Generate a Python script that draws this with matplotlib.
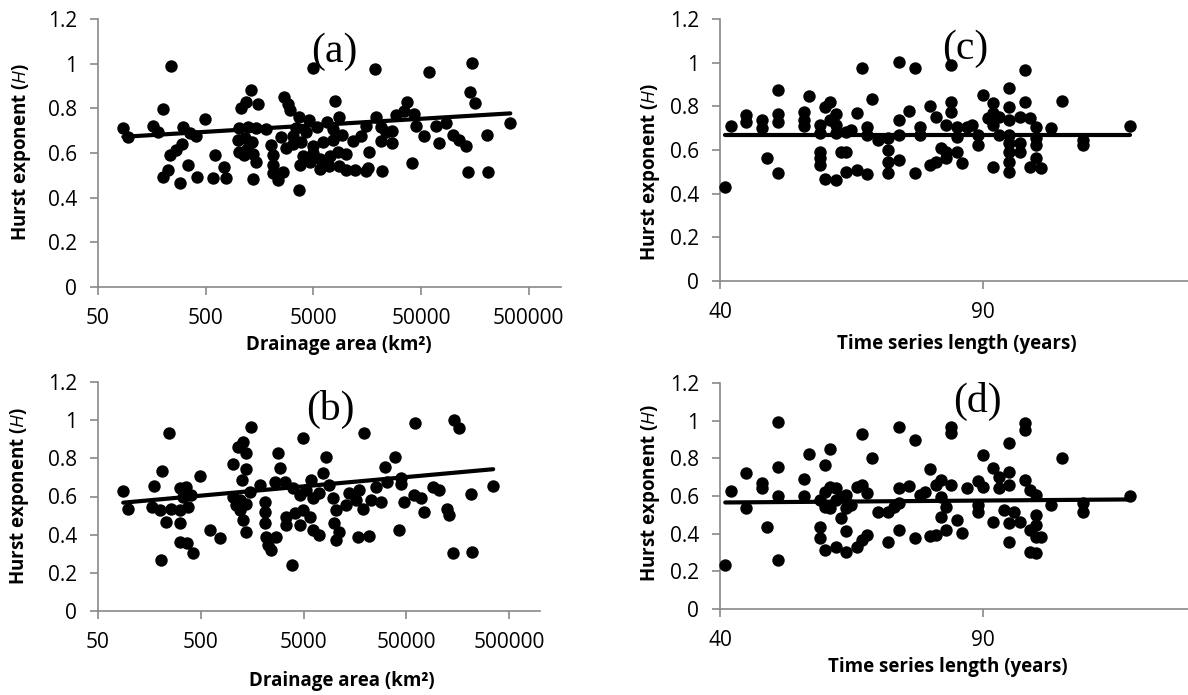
import numpy as np
import matplotlib
matplotlib.use("Agg")
import matplotlib.pyplot as plt
from matplotlib.ticker import FixedLocator, FuncFormatter, NullLocator

# (a) drainage area vs H
area_a = [237, 4930, 18750, 59300, 149000, 144000, 158000, 1325, 1190, 1530,
          1070, 2690, 2890, 3040, 201, 490, 8000, 37300, 34800, 29100,
          43000, 86, 95, 163, 181, 308, 356, 404, 232, 267,
          304, 201, 224, 287, 343, 416, 605, 734, 585, 776,
          1030, 1230, 1470, 1820, 995, 1150, 1350, 1030, 1210, 1390,
          1470, 1370, 1125, 2030, 2100, 2130, 2100, 2340, 2600, 2510,
          2790, 3220, 3710, 3710, 4590, 3460, 4280, 5370, 6640, 8590,
          7550, 3270, 3840, 4930, 6190, 7650, 9210, 4040, 5000, 5760,
          7130, 8400, 3770, 4650, 5760, 7030, 8590, 10030, 11570, 13800,
          15380, 19010, 21180, 23870, 27150, 21180, 27150, 16370, 16030, 21630,
          10030, 12250, 15590, 41600, 45300, 53300, 68400, 85900, 73400, 98900,
          114000, 130000, 206000, 338000, 137000, 210000]
h_a = [0.990, 0.979, 0.976, 0.964, 1.002, 0.875, 0.823, 0.882, 0.830, 0.818,
       0.800, 0.852, 0.818, 0.793, 0.797, 0.752, 0.833, 0.830, 0.788, 0.770,
       0.773, 0.711, 0.673, 0.723, 0.693, 0.718, 0.688, 0.678, 0.591, 0.614,
       0.639, 0.494, 0.524, 0.464, 0.546, 0.494, 0.591, 0.539, 0.487, 0.487,
       0.711, 0.718, 0.714, 0.708, 0.658, 0.669, 0.648, 0.606, 0.618, 0.594,
       0.558, 0.484, 0.591, 0.636, 0.591, 0.546, 0.509, 0.479, 0.517, 0.673,
       0.621, 0.639, 0.434, 0.763, 0.748, 0.711, 0.693, 0.718, 0.741, 0.763,
       0.708, 0.678, 0.648, 0.633, 0.648, 0.658, 0.681, 0.588, 0.599, 0.573,
       0.588, 0.606, 0.546, 0.558, 0.528, 0.543, 0.543, 0.594, 0.654, 0.678,
       0.723, 0.763, 0.718, 0.696, 0.699, 0.654, 0.643, 0.606, 0.531, 0.520,
       0.524, 0.524, 0.520, 0.554, 0.723, 0.678, 0.723, 0.733, 0.643, 0.681,
       0.658, 0.633, 0.681, 0.733, 0.514, 0.514]

# (b) drainage area vs H
area_b = [88, 98, 246, 208, 175, 166, 200, 232, 259, 313,
          363, 337, 405, 377, 313, 313, 207, 313, 368, 422,
          497, 611, 776, 1550, 1290, 1150, 1390, 1020, 1380, 1270,
          1030, 1110, 1200, 1290, 1390, 1500, 1870, 1200, 1390, 2090,
          2090, 2090, 2170, 2250, 2430, 2820, 2920, 2610, 3270, 2720,
          3880, 3400, 4090, 4930, 5720, 3400, 4570, 6160, 7140, 3930,
          4570, 5300, 6160, 7140, 5930, 4890, 8300, 7700, 8930, 9640,
          10380, 10000, 10380, 11190, 14000, 12970, 16200, 17500, 16850, 21860,
          19550, 18850, 22700, 28380, 25400, 31250, 39100, 42760, 32700, 44400,
          44100, 47700, 59800, 68800, 74800, 90100, 104500, 61100, 125800, 130600,
          146200, 163600, 141000, 217000, 212000, 350000]
h_b = [0.630, 0.537, 0.934, 0.733, 0.654, 0.546, 0.528, 0.467, 0.537, 0.642,
       0.651, 0.598, 0.607, 0.546, 0.528, 0.459, 0.266, 0.362, 0.354, 0.305,
       0.707, 0.424, 0.380, 0.962, 0.887, 0.861, 0.826, 0.770, 0.742, 0.686,
       0.598, 0.555, 0.528, 0.476, 0.415, 0.625, 0.660, 0.580, 0.563, 0.572,
       0.520, 0.459, 0.389, 0.345, 0.319, 0.826, 0.747, 0.677, 0.677, 0.389,
       0.240, 0.494, 0.511, 0.528, 0.494, 0.450, 0.450, 0.424, 0.398, 0.642,
       0.607, 0.633, 0.590, 0.616, 0.686, 0.904, 0.808, 0.721, 0.660, 0.590,
       0.528, 0.459, 0.371, 0.415, 0.616, 0.555, 0.581, 0.633, 0.389, 0.392,
       0.931, 0.537, 0.581, 0.572, 0.651, 0.756, 0.808, 0.423, 0.677, 0.668,
       0.695, 0.572, 0.607, 0.590, 0.520, 0.651, 0.633, 0.983, 0.537, 0.502,
       1.000, 0.957, 0.305, 0.310, 0.612, 0.654]

# (c) time series length vs H
years_c = [41, 42, 45, 45, 48, 48, 49, 51, 51, 51,
           51, 56, 56, 56, 57, 59, 59, 61, 60, 62,
           62, 62, 59, 59, 59, 60, 62, 63, 64, 64,
           66, 68, 64, 65, 66, 67, 68, 68, 69, 70,
           72, 72, 72, 72, 74, 74, 74, 74, 77, 76,
           77, 78, 78, 80, 80, 81, 81, 83, 82, 83,
           83, 84, 84, 84, 85, 85, 85, 86, 87, 88,
           89, 89, 90, 91, 92, 92, 92, 92, 93, 93,
           95, 95, 95, 95, 95, 95, 95, 95, 97, 97,
           98, 98, 97, 99, 100, 100, 100, 100, 99, 101,
           103, 105, 109, 109, 118, 61]
h_c = [0.432, 0.710, 0.760, 0.730, 0.737, 0.702, 0.562, 0.875, 0.763, 0.730,
       0.493, 0.772, 0.737, 0.711, 0.849, 0.714, 0.676, 0.821, 0.798, 0.763,
       0.714, 0.676, 0.592, 0.562, 0.531, 0.467, 0.462, 0.592, 0.592, 0.501,
       0.508, 0.488, 0.684, 0.691, 0.768, 0.974, 0.707, 0.669, 0.832, 0.646,
       0.653, 0.600, 0.546, 0.493, 0.737, 0.669, 0.554, 1.001, 0.977, 0.780,
       0.493, 0.707, 0.669, 0.803, 0.531, 0.546, 0.753, 0.714, 0.608, 0.592,
       0.562, 0.989, 0.821, 0.775, 0.707, 0.661, 0.592, 0.539, 0.707, 0.714,
       0.669, 0.623, 0.852, 0.745, 0.814, 0.714, 0.768, 0.524, 0.753, 0.669,
       0.882, 0.798, 0.737, 0.669, 0.630, 0.592, 0.546, 0.501, 0.630, 0.592,
       0.966, 0.821, 0.753, 0.745, 0.707, 0.653, 0.623, 0.562, 0.524, 0.516,
       0.699, 0.826, 0.646, 0.623, 0.710, 0.737]

# (d) time series length vs H
years_d = [41, 42, 45, 45, 48, 48, 49, 51, 51, 51,
           51, 56, 56, 57, 61, 60, 59, 60, 61, 62,
           63, 64, 60, 61, 62, 64, 65, 59, 59, 60,
           62, 64, 66, 67, 68, 63, 64, 66, 67, 68,
           67, 69, 70, 72, 73, 74, 72, 74, 74, 74,
           76, 77, 77, 80, 81, 78, 79, 80, 81, 82,
           82, 83, 82, 83, 84, 85, 86, 84, 84, 87,
           89, 90, 89, 89, 90, 92, 92, 93, 93, 95,
           95, 95, 94, 95, 95, 96, 97, 98, 98, 98,
           99, 100, 100, 100, 99, 100, 101, 99, 100, 103,
           105, 109, 109, 118]
h_d = [0.234, 0.627, 0.721, 0.535, 0.667, 0.641, 0.437, 0.995, 0.753, 0.600,
       0.260, 0.689, 0.600, 0.822, 0.850, 0.765, 0.579, 0.623, 0.650, 0.641,
       0.597, 0.606, 0.544, 0.535, 0.579, 0.535, 0.553, 0.437, 0.376, 0.314,
       0.331, 0.305, 0.331, 0.367, 0.393, 0.482, 0.416, 0.650, 0.659, 0.618,
       0.930, 0.804, 0.517, 0.517, 0.544, 0.561, 0.358, 0.420, 0.968, 0.641,
       0.653, 0.898, 0.379, 0.388, 0.393, 0.606, 0.623, 0.742, 0.659, 0.685,
       0.597, 0.544, 0.491, 0.420, 0.659, 0.473, 0.406, 0.968, 0.933, 0.641,
       0.682, 0.650, 0.553, 0.517, 0.818, 0.747, 0.464, 0.703, 0.641, 0.880,
       0.730, 0.659, 0.526, 0.455, 0.358, 0.517, 0.464, 0.986, 0.951, 0.685,
       0.632, 0.606, 0.500, 0.446, 0.420, 0.384, 0.384, 0.305, 0.300, 0.553,
       0.800, 0.561, 0.517, 0.600]

# trend lines: H = slope * x' + intercept
# (x' = log10(area) for a/b, years for c/d)
trend_a = (0.0292, 0.616)
trend_b = (0.0487, 0.473)
trend_c = (0.0, 0.667)
trend_d = (0.00021, 0.557)

area_ticks = [50, 500, 5000, 50000, 500000]
year_ticks = [40, 90, 140]
h_ticks = [0, 0.2, 0.4, 0.6, 0.8, 1.0, 1.2]

W, H = 1188, 695
AXIS_GREY = "#898989"

plt.rcParams["font.family"] = ["Open Sans", "DejaVu Sans"]
plt.rcParams["mathtext.fontset"] = "custom"
plt.rcParams["mathtext.it"] = "Open Sans:italic"
plt.rcParams["mathtext.rm"] = "Open Sans"

fig = plt.figure(figsize=(W / 100, H / 100), dpi=100)


def px_rect(x0, y0, x1, y1):
    return [x0 / W, 1 - y1 / H, (x1 - x0) / W, (y1 - y0) / H]


def px_text(x, y, s, **kw):
    fig.text(x / W, 1 - y / H, s, ha="center", va="center", **kw)


def style_axes(ax):
    for side in ["top", "right"]:
        ax.spines[side].set_visible(False)
    for side in ["left", "bottom"]:
        ax.spines[side].set_color(AXIS_GREY)
        ax.spines[side].set_linewidth(1.2)
    ax.tick_params(direction="out", length=6, width=1.2, color=AXIS_GREY,
                   labelsize=15, labelcolor="black")
    ax.tick_params(axis="y", pad=9)
    ax.tick_params(axis="x", pad=9)
    ax.set_ylim(0, 1.2)
    ax.yaxis.set_major_locator(FixedLocator(h_ticks))
    ax.yaxis.set_major_formatter(FuncFormatter(lambda v, p: f"{v:g}"))


def area_panel(rect, area, h, trend):
    ax = fig.add_axes(px_rect(*rect))
    style_axes(ax)
    ax.set_xscale("log")
    ax.set_xlim(50, 1e6)
    ax.xaxis.set_major_locator(FixedLocator(area_ticks))
    ax.xaxis.set_minor_locator(NullLocator())
    ax.xaxis.set_major_formatter(FuncFormatter(lambda v, p: f"{int(round(v))}"))
    ax.scatter(area, h, s=80, color="black", linewidths=0, zorder=3, clip_on=False)
    xs = np.array([min(area), max(area)])
    ax.plot(xs, trend[0] * np.log10(xs) + trend[1], color="black", lw=3,
            solid_capstyle="round", zorder=4)
    return ax


def year_panel(rect, years, h, trend):
    ax = fig.add_axes(px_rect(*rect))
    style_axes(ax)
    ax.set_xlim(40, 129)
    ax.xaxis.set_major_locator(FixedLocator(year_ticks))
    ax.xaxis.set_major_formatter(FuncFormatter(lambda v, p: f"{v:g}"))
    ax.scatter(years, h, s=80, color="black", linewidths=0, zorder=3, clip_on=False)
    xs = np.array([min(years), max(years)])
    ax.plot(xs, trend[0] * xs + trend[1], color="black", lw=3,
            solid_capstyle="round", zorder=4)
    return ax


area_panel((98, 19, 561, 287), area_a, h_a, trend_a)
area_panel((98, 382, 540, 611), area_b, h_b, trend_b)
year_panel((720, 19, 1188, 281), years_c, h_c, trend_c)
year_panel((720, 383, 1188, 609), years_d, h_d, trend_d)

# axis titles
xlab = dict(fontsize=13.5, fontweight="bold")
px_text(339, 345, "Drainage area (km²)", **xlab)
px_text(342, 681, "Drainage area (km²)", **xlab)
px_text(957, 344, "Time series length (years)", **xlab)
px_text(948, 667, "Time series length (years)", **xlab)

ylab = "Hurst exponent ($\\it{H}$)"
for x, y in [(22, 152), (20, 496), (650, 172), (650, 493)]:
    px_text(x, y, ylab, rotation=90, **xlab)

# panel letters
for x, y, s in [(334, 52, "(a)"), (330, 409, "(b)"), (965, 49, "(c)"), (977, 401, "(d)")]:
    px_text(x, y, s, fontsize=30, family="Liberation Serif")

fig.savefig("out.png", dpi=100)
